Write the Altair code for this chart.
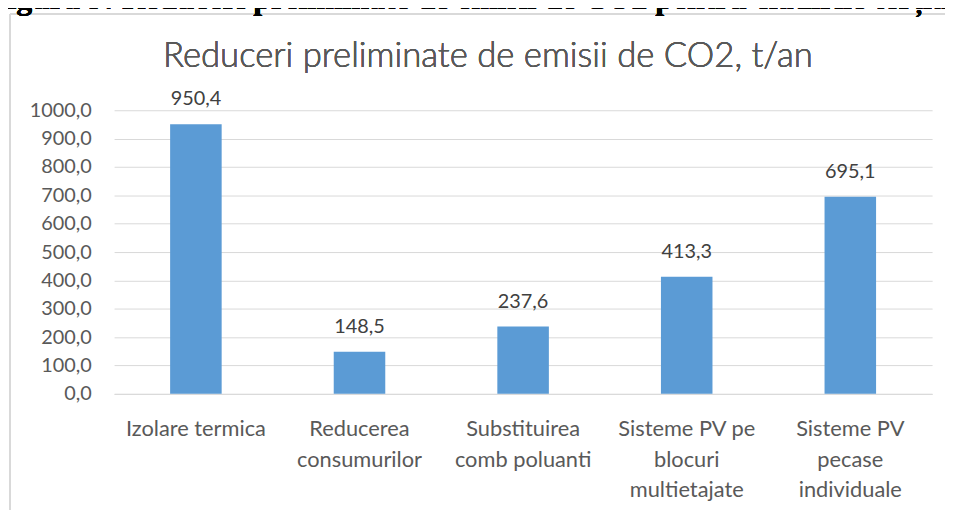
import altair as alt
import pandas as pd

categories = [
    "Izolare termica",
    "Reducerea\nconsumurilor",
    "Substituirea\ncomb poluanti",
    "Sisteme PV pe\nblocuri\nmultietajate",
    "Sisteme PV\npecase\nindividuale",
]
values = [950.4, 148.5, 237.6, 413.3, 695.1]
y_ticks = [0, 100, 200, 300, 400, 500, 600, 700, 800, 900, 1000]
chart_title = "Reduceri preliminate de emisii de CO2, t/an"
figure_caption = "Figura 9: Reduceri preliminate de emisii de CO2 pentru clădirile terțiare"

df = pd.DataFrame({"cat": categories, "v": values})

FONT = "Lato"
GRAY = "#595959"

x = alt.X(
    "cat:N",
    sort=categories,
    title=None,
    scale=alt.Scale(paddingInner=0.685, paddingOuter=0.3425),
    axis=alt.Axis(
        labelExpr="split(datum.label, '\\n')",
        labelAngle=0,
        labelFont=FONT,
        labelFontSize=22,
        labelColor=GRAY,
        labelLineHeight=31,
        labelPadding=25,
        labelBaseline="top",
        labelOverlap=False,
        ticks=False,
        tickSize=0,
        domainColor="#d9d9d9",
        domainWidth=1,
        grid=False,
    ),
)
y = alt.Y(
    "v:Q",
    title=None,
    scale=alt.Scale(domain=[0, 1000], nice=False),
    axis=alt.Axis(
        values=y_ticks,
        labelExpr="replace(format(datum.value, '.1f'), '.', ',')",
        labelFont=FONT,
        labelFontSize=20,
        labelColor=GRAY,
        labelPadding=23,
        labelOverlap=False,
        labelBound=False,
        ticks=False,
        tickSize=0,
        domain=False,
        gridColor="#d9d9d9",
        gridWidth=1,
    ),
)

base = alt.Chart(df)
bars = base.mark_bar(color="#5b9bd5").encode(x=x, y=y)
labels = (
    base.transform_calculate(lab="replace(format(datum.v, '.1f'), '.', ',')")
    .mark_text(font=FONT, fontSize=20, color="#404040", baseline="alphabetic", dy=-19)
    .encode(x=x, y=y, text="lab:N")
)

frame_top = alt.Chart(df).mark_rule(color="#d9d9d9", strokeWidth=1.5).encode(
    x=alt.value(-105), x2=alt.value(900), y=alt.value(-97)
)
frame_left = alt.Chart(df).mark_rule(color="#d9d9d9", strokeWidth=1.5).encode(
    x=alt.value(-105), y=alt.value(-97), y2=alt.value(420)
)
caption = alt.Chart(df).mark_text(
    font="Liberation Serif", fontSize=32, fontWeight="bold", color="black",
    align="left", baseline="alphabetic",
).encode(x=alt.value(-127), y=alt.value(-102), text=alt.value(figure_caption))
title = alt.Chart(df).mark_text(
    font=FONT, fontSize=35, fontWeight=300, color=GRAY, align="center", baseline="alphabetic",
).encode(x=alt.value(377), y=alt.value(-44), text=alt.value(chart_title))

chart = (
    alt.layer(bars, labels, frame_top, frame_left, caption, title)
    .properties(
        width=825,
        height=286,
        autosize=alt.AutoSizeParams(type="none"),
        padding={"left": 107, "top": 101, "right": 13, "bottom": 115},
        background="white",
    )
    .configure_view(strokeWidth=0)
)

chart.save("out.html", embed_options={"renderer": "svg", "actions": False})
